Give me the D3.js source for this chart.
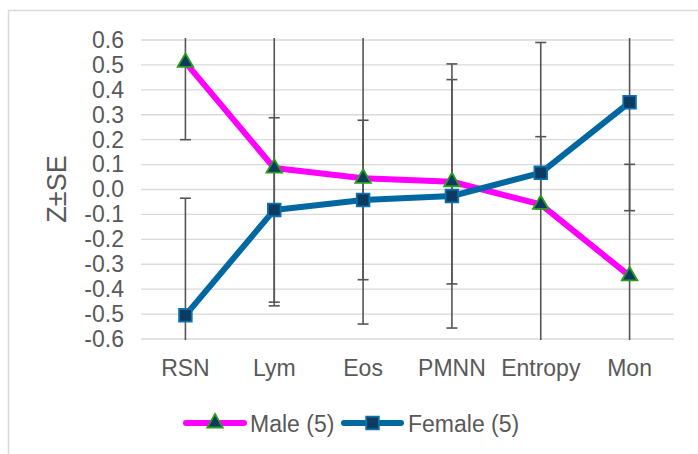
<!DOCTYPE html>
<html>
<head>
<meta charset="utf-8">
<script src="https://cdn.jsdelivr.net/npm/d3@7"></script>
<style>
  body { margin: 0; background: #fff; }
  svg { display: block; font-family: "Liberation Sans", Arial, sans-serif; }
</style>
</head>
<body>
<div id="chart"></div>
<script>
// data
const categories = ["RSN", "Lym", "Eos", "PMNN", "Entropy", "Mon"];
const maleValues = [0.51, 0.086, 0.045, 0.031, -0.06, -0.347];
const maleErrors = [0.31, 0.553, 0.585, 0.41, 0.65, 0.448];
const femaleValues = [-0.505, -0.082, -0.042, -0.026, 0.067, 0.35];
const femaleErrors = [0.47, 0.37, 0.32, 0.53, 0.145, 0.435];
const yTicks = [0.6, 0.5, 0.4, 0.3, 0.2, 0.1, 0.0, -0.1, -0.2, -0.3, -0.4, -0.5, -0.6];

const width = 698, height = 454;
const textColor = "#595959";

const svg = d3.select("#chart")
    .append("svg")
    .attr("width", width)
    .attr("height", height);

// chart frame (runs off the right and bottom of the picture)
svg.append("rect")
    .attr("x", 8.5).attr("y", 10.5)
    .attr("width", 720).attr("height", 480)
    .attr("fill", "none")
    .attr("stroke", "#d9d9d9")
    .attr("stroke-width", 1.5);

const x = d3.scaleBand()
    .domain(categories)
    .range([141, 674]);

const y = d3.scaleLinear()
    .domain([-0.6, 0.6])
    .range([339, 40]);

// gridlines
svg.append("g")
    .selectAll("line")
    .data(yTicks)
    .enter()
    .append("line")
        .attr("x1", 141).attr("x2", 674)
        .attr("y1", d => y(d)).attr("y2", d => y(d))
        .attr("stroke", "#d9d9d9")
        .attr("stroke-width", 1.3);

// y axis labels, plain hyphen like the original
const yAxis = svg.append("g")
    .attr("transform", "translate(141,0)")
    .call(d3.axisLeft(y).tickValues(yTicks)
        .tickFormat(d => d.toFixed(1).replace("−", "-"))
        .tickSize(0).tickPadding(17));
yAxis.select(".domain").remove();
yAxis.selectAll("text")
    .attr("fill", textColor)
    .style("font-size", "23px")
    .style("font-family", "Liberation Sans, Arial, sans-serif");

// x axis labels
const xAxis = svg.append("g")
    .attr("transform", "translate(0,339)")
    .call(d3.axisBottom(x).tickSize(0).tickPadding(21));
xAxis.select(".domain").remove();
xAxis.selectAll("text")
    .attr("fill", textColor)
    .style("font-size", "23px")
    .style("font-family", "Liberation Sans, Arial, sans-serif");

// axis title
svg.append("text")
    .attr("transform", "translate(66,189) rotate(-90)")
    .attr("text-anchor", "middle")
    .attr("fill", textColor)
    .style("font-size", "27px")
    .text("Z±SE");

const series = [
    {name: "Male (5)", values: maleValues, errors: maleErrors, color: "#ff00ff", shape: d3.symbolTriangle, fill: "#0b3b5e", stroke: "#2a9d1e", size: 105},
    {name: "Female (5)", values: femaleValues, errors: femaleErrors, color: "#0068a0", shape: d3.symbolSquare, fill: "#0b3b5e", stroke: "#0a72ad", size: 160}
];

const clip = v => Math.max(-0.6, Math.min(0.6, v));
const cx = c => x(c) + x.bandwidth() / 2;

// error bars
series.forEach(s => {
    const g = svg.append("g").attr("stroke", "#555").attr("stroke-width", 1.6);
    categories.forEach((c, i) => {
        const hi = s.values[i] + s.errors[i];
        const lo = s.values[i] - s.errors[i];
        g.append("line")
            .attr("x1", cx(c)).attr("x2", cx(c))
            .attr("y1", y(clip(hi)) - (hi > 0.6 ? 2 : 0))
            .attr("y2", y(clip(lo)) + (lo < -0.6 ? 1 : 0));
        [hi, lo].forEach(v => {
            if (v <= 0.6 && v >= -0.6) {
                g.append("line")
                    .attr("x1", cx(c) - 5.5).attr("x2", cx(c) + 5.5)
                    .attr("y1", y(v)).attr("y2", y(v));
            }
        });
    });
});

// lines
const line = d3.line()
    .x((d, i) => cx(categories[i]))
    .y(d => y(d));

series.forEach(s => {
    svg.append("path")
        .datum(s.values)
        .attr("fill", "none")
        .attr("stroke", s.color)
        .attr("stroke-width", 6)
        .attr("stroke-linejoin", "round")
        .attr("d", line);
});

// markers
series.forEach(s => {
    svg.append("g")
        .selectAll("path")
        .data(s.values)
        .enter()
        .append("path")
            .attr("d", d3.symbol().type(s.shape).size(s.size))
            .attr("transform", (d, i) => `translate(${cx(categories[i])},${y(d)})`)
            .attr("fill", s.fill)
            .attr("stroke", s.stroke)
            .attr("stroke-width", 1.8);
});

// legend
const legendY = 423;
const legendItems = [
    {s: series[0], x0: 186, x1: 244, tx: 250},
    {s: series[1], x0: 344, x1: 401, tx: 408}
];
legendItems.forEach(l => {
    svg.append("line")
        .attr("x1", l.x0).attr("x2", l.x1)
        .attr("y1", legendY).attr("y2", legendY)
        .attr("stroke", l.s.color)
        .attr("stroke-width", 6)
        .attr("stroke-linecap", "round");
    svg.append("path")
        .attr("d", d3.symbol().type(l.s.shape).size(l.s.size))
        .attr("transform", `translate(${(l.x0 + l.x1) / 2},${legendY})`)
        .attr("fill", l.s.fill)
        .attr("stroke", l.s.stroke)
        .attr("stroke-width", 1.8);
    svg.append("text")
        .attr("x", l.tx)
        .attr("y", legendY + 9)
        .attr("fill", textColor)
        .style("font-size", "23px")
        .text(l.s.name);
});
</script>
</body>
</html>
